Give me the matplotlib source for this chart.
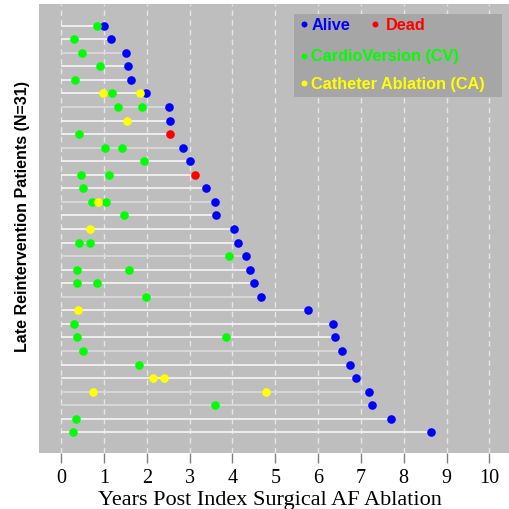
import matplotlib
matplotlib.use("Agg")
import matplotlib.pyplot as plt
from matplotlib.patches import Rectangle

# Follow-up (years) for each patient, listed top to bottom
followup = [0.99, 1.17, 1.51, 1.57, 1.62, 1.98, 2.52, 2.53, 2.55, 2.85,
            3.01, 3.13, 3.37, 3.58, 3.61, 4.03, 4.13, 4.32, 4.42, 4.50,
            4.67, 5.77, 6.36, 6.39, 6.57, 6.75, 6.89, 7.19, 7.26, 7.70, 8.64]
# Vital status at last follow-up
status = ["Alive"] * 31
status[8] = "Dead"
status[11] = "Dead"
# Cardioversion times (years)
cv_times = [[0.84], [0.29], [0.48], [0.90], [0.33], [1.19], [1.33, 1.88], [],
            [0.41], [1.02, 1.43], [1.94], [0.45, 1.11], [0.51], [0.71, 1.04],
            [1.46], [], [0.41, 0.68], [3.92], [0.36, 1.59], [0.37, 0.83],
            [1.99], [], [0.30], [0.37, 3.84], [0.50], [1.81], [], [], [3.58],
            [0.34], [0.28]]
# Catheter ablation times (years)
ca_times = [[], [], [], [], [], [0.97, 1.85], [], [1.53], [], [], [], [], [],
            [0.86], [], [0.66], [], [], [], [], [], [0.40], [], [], [], [],
            [2.14, 2.41], [0.74, 4.78], [], [], []]
x_ticks = list(range(0, 11))

# segment shading per patient row (top to bottom)
seg_shade = ["#f2f2f2", "#f2f2f2", "#d9d9d9", "#f2f2f2", "#f2f2f2", "#f2f2f2",
             "#d9d9d9", "#f2f2f2", "#f2f2f2", "#d9d9d9", "#f2f2f2", "#f2f2f2",
             "#f2f2f2", "#d9d9d9", "#f2f2f2", "#f2f2f2", "#f2f2f2", "#d9d9d9",
             "#f2f2f2", "#f2f2f2", "#d9d9d9", "#f2f2f2", "#f2f2f2", "#f2f2f2",
             "#d9d9d9", "#f2f2f2", "#f2f2f2", "#d9d9d9", "#d9d9d9", "#f2f2f2",
             "#f2f2f2"]

BLUE, RED, GREEN, YELLOW = "#0000ff", "#ff0000", "#00ff00", "#ffff00"
W, H = 509, 510
fig = plt.figure(figsize=(W / 100, H / 100), dpi=100)
fig.patch.set_facecolor("white")
ax = fig.add_axes([39 / W, (H - 454) / H, 470 / W, 449 / H])
ax.set_facecolor("#bebebe")
for s in ax.spines.values():
    s.set_visible(False)

n = len(followup)
ys = [n - i for i in range(n)]

for xv in x_ticks:
    ax.axvline(xv, color="#e6e6e6", lw=1.0, ls=(0, (4, 3)), zorder=1)

for i, y in enumerate(ys):
    ax.plot([0, followup[i]], [y, y], color=seg_shade[i], lw=1.3,
            solid_capstyle="butt", zorder=2)

ms = 6.2
for i, y in enumerate(ys):
    c = BLUE if status[i] == "Alive" else RED
    ax.plot(followup[i], y, "o", color=c, ms=ms, mew=0, zorder=3)
for i, y in enumerate(ys):
    for t in cv_times[i]:
        ax.plot(t, y, "o", color=GREEN, ms=ms, mew=0, zorder=4)
    for t in ca_times[i]:
        ax.plot(t, y, "o", color=YELLOW, ms=ms, mew=0, zorder=5)

ax.set_xlim(-0.52, 10.46)
ax.set_ylim(-0.53, n + 1.6)
ax.set_yticks([])
ax.set_xticks(x_ticks)
ax.set_xticklabels([str(t) for t in x_ticks], family="Liberation Serif",
                   fontsize=14.5)
ax.tick_params(axis="x", length=7, width=1, color="#808080", pad=4)
ax.set_xlabel("Years Post Index Surgical AF Ablation",
              family="Liberation Serif", fontsize=16)
ax.xaxis.set_label_coords(0.491, -0.082)
ax.set_ylabel("Late Reintervention Patients (N=31)",
              family="Liberation Sans", fontweight="bold", fontsize=11.5)
ax.yaxis.set_label_coords(-0.02, 0.53)

# legend panel
def fx(px):
    return px / W

def fy(py):
    return 1 - py / H

fig.patches.append(Rectangle((fx(294), fy(98)), fx(502) - fx(294),
                             fy(15) - fy(98), transform=fig.transFigure,
                             facecolor="#a6a6a6", edgecolor="none",
                             zorder=10))
entries = [(304, 25, 312, "Alive", BLUE), (375, 25, 386, "Dead", RED),
           (304, 56.5, 311, "CardioVersion (CV)", GREEN),
           (304, 84, 311, "Catheter Ablation (CA)", YELLOW)]
for dx, dy, tx, label, col in entries:
    fig.lines.append(plt.Line2D([fx(dx)], [fy(dy)], marker="o", ms=4.3,
                                mew=0, color=col, transform=fig.transFigure,
                                zorder=11))
    fig.text(fx(tx), fy(dy), label, color=col, family="Liberation Sans",
             fontweight="bold", fontsize=11.7, va="center", ha="left",
             zorder=11)

fig.savefig("out.png", dpi=100)
